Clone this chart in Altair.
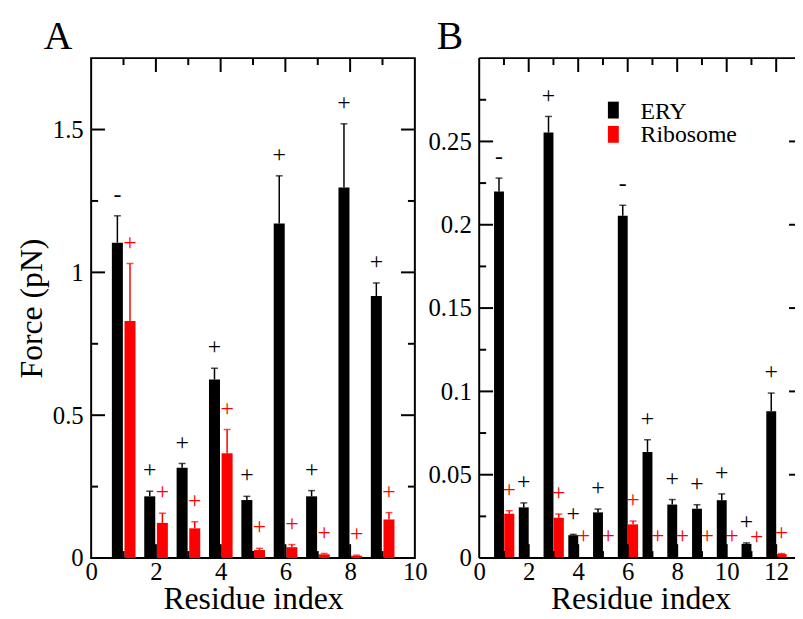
import altair as alt
import pandas as pd

FONT = "Liberation Serif, Times New Roman, DejaVu Serif, serif"

series_names = ["ERY", "Ribosome"]
series_colors = ["#000000", "#ff0000"]
panel_labels = ["A", "B"]

# ---------------- Panel A ----------------
residue_a = [1, 2, 3, 4, 5, 6, 7, 8, 9]
ery_a = [1.104, 0.216, 0.316, 0.625, 0.203, 1.171, 0.216, 1.297, 0.917]
ery_err_a = [0.094, 0.018, 0.015, 0.039, 0.013, 0.167, 0.020, 0.223, 0.046]
ery_sign_a = ["-", "+", "+", "+", "+", "+", "+", "+", "+"]
ribo_a = [0.830, 0.123, 0.104, 0.367, 0.028, 0.038, 0.013, 0.008, 0.135]
ribo_err_a = [0.201, 0.034, 0.023, 0.083, 0.006, 0.009, 0.003, 0.002, 0.024]
ribo_sign_a = ["+", "+", "+", "+", "+", "+", "+", "+", "+"]

# ---------------- Panel B ----------------
residue_b = [1, 2, 3, 4, 5, 6, 7, 8, 9, 10, 11, 12]
ery_b = [0.220, 0.0304, 0.2554, 0.0137, 0.0274, 0.2054, 0.0637, 0.0321, 0.0296, 0.0347, 0.0085, 0.0881]
ery_err_b = [0.008, 0.0027, 0.0096, 0.0005, 0.0020, 0.0063, 0.0073, 0.0030, 0.0024, 0.0038, 0.0006, 0.0109]
ery_sign_b = ["-", "+", "+", "+", "+", "-", "+", "+", "+", "+", "+", "+"]
ribo_b = [0.0266, 0.0006, 0.0242, 0.0005, 0.0005, 0.0202, 0.0005, 0.0005, 0.0006, 0.0005, 0.0, 0.0024]
ribo_err_b = [0.0018, 0.0, 0.0022, 0.0, 0.0, 0.0020, 0.0, 0.0, 0.0, 0.0, 0.0, 0.0003]
ribo_sign_b = ["+", "", "+", "+", "+", "+", "+", "+", "+", "+", "+", "+"]

# axis tick values
xlab_a = [0, 2, 4, 6, 8, 10]
ylab_a = [0, 0.5, 1, 1.5]
xmaj_a, xmin_a = [2, 4, 6, 8], [1, 3, 5, 7, 9]
ymaj_a, ymin_a = [0.5, 1.0, 1.5], [0.25, 0.75, 1.25]

xlab_b = [0, 2, 4, 6, 8, 10, 12]
ylab_b = [0, 0.05, 0.1, 0.15, 0.2, 0.25]
xmaj_b, xmin_b = [2, 4, 6, 8, 10, 12], [1, 3, 5, 7, 9, 11]
ymaj_b, ymin_b = [0.05, 0.1, 0.15, 0.2, 0.25], [0.025, 0.075, 0.125, 0.175, 0.225, 0.275]


def long_df(res, ery, ery_err, ery_sign, ribo, ribo_err, ribo_sign):
    rows = []
    for i, r in enumerate(res):
        rows.append(dict(residue=r, series=series_names[0], value=ery[i], err=ery_err[i], sign=ery_sign[i]))
        rows.append(dict(residue=r, series=series_names[1], value=ribo[i], err=ribo_err[i], sign=ribo_sign[i]))
    return pd.DataFrame(rows)


color_enc = alt.Color("series:N", scale=alt.Scale(domain=series_names, range=series_colors), legend=None)


def panel(df, label, label_dx, W, H, xdom, ydom, xlabels, ylabels, xmaj, xmin, ymaj, ymin,
          ery_off, ribo_off, ytitle, xtitle_x, frame_view):
    xaxis = alt.Axis(values=xlabels, format="~r", ticks=False, tickSize=0, domain=False, grid=False,
                     labelFlush=False, labelPadding=2, title="Residue index", titlePadding=1,
                     minExtent=25, maxExtent=25, titleX=xtitle_x)
    yargs = dict(values=ylabels, format="~r", ticks=False, tickSize=0, domain=False, grid=False,
                 labelFlush=False, labelPadding=8)
    if ytitle:
        yaxis = alt.Axis(title=ytitle, titlePadding=3, minExtent=40, maxExtent=40, **yargs)
    else:
        yaxis = alt.Axis(title=None, **yargs)
    xs = alt.Scale(domain=xdom, nice=False, zero=False)
    ys = alt.Scale(domain=ydom, nice=False)

    def X(f):
        return alt.X(f, type="quantitative", scale=xs, axis=xaxis)

    def Y(f):
        return alt.Y(f, type="quantitative", scale=ys, axis=yaxis)

    base = alt.Chart(df).transform_calculate(
        xl=f"datum.series == '{series_names[0]}' ? datum.residue + ({ery_off[0]}) : datum.residue + ({ribo_off[0]})",
        xr=f"datum.series == '{series_names[0]}' ? datum.residue + ({ery_off[1]}) : datum.residue + ({ribo_off[1]})",
        top="datum.value + datum.err",
    ).transform_calculate(xc="(datum.xl + datum.xr) / 2")

    bars = base.mark_rect().encode(x=X("xl"), x2="xr", y=Y("value"), y2=alt.datum(0), color=color_enc)
    errs = base.transform_filter("datum.err > 0").mark_rule(strokeWidth=1.5).encode(
        x=X("xc"), y=Y("value"), y2="top", color=color_enc)
    caps = base.transform_filter("datum.err > 0").mark_tick(orient="horizontal", size=7, thickness=1.5).encode(
        x=X("xc"), y=Y("top"), color=color_enc)
    signs = base.mark_text(font=FONT, fontSize=24, baseline="middle", align="center", dy=-21).encode(
        x=X("xc"), y=Y("top"), text="sign:N", color=color_enc)

    layers = [bars, errs, caps, signs]

    def tdf(v):
        return pd.DataFrame({"t": v})

    for vals, L in ((xmaj, 14), (xmin, 7)):
        layers.append(alt.Chart(tdf(vals)).mark_rule(color="black", strokeWidth=2).encode(
            x=X("t"), y=alt.value(0), y2=alt.value(L)))
        layers.append(alt.Chart(tdf(vals)).mark_rule(color="black", strokeWidth=2).encode(
            x=X("t"), y=alt.value(H), y2=alt.value(H - L)))
    for vals, L in ((ymaj, 14), (ymin, 7)):
        layers.append(alt.Chart(tdf(vals)).mark_rule(color="black", strokeWidth=2).encode(
            y=Y("t"), x=alt.value(0), x2=alt.value(L)))
        if frame_view:
            layers.append(alt.Chart(tdf(vals)).mark_rule(color="black", strokeWidth=2).encode(
                y=Y("t"), x=alt.value(W), x2=alt.value(W - L)))
        elif L == 14:
            layers.append(alt.Chart(tdf(vals)).mark_rule(color="black", strokeWidth=2).encode(
                y=Y("t"), x=alt.value(W - 6), x2=alt.value(W)))

    one = pd.DataFrame({"label": [label]})
    if not frame_view:
        layers.append(alt.Chart(one).mark_rule(color="black", strokeWidth=2).encode(
            x=alt.value(0), y=alt.value(0), y2=alt.value(H)))
        layers.append(alt.Chart(one).mark_rule(color="black", strokeWidth=2).encode(
            x=alt.value(0), x2=alt.value(W), y=alt.value(0)))
        layers.append(alt.Chart(one).mark_rule(color="black", strokeWidth=2).encode(
            x=alt.value(0), x2=alt.value(W), y=alt.value(H)))
        # legend
        for i, name in enumerate(series_names):
            ldf = pd.DataFrame({"series": [name]})
            layers.append(alt.Chart(ldf).mark_rect(color=series_colors[i]).encode(
                x=alt.value(130), x2=alt.value(141), y=alt.value(44 + 24.5 * i), y2=alt.value(61 + 24.5 * i)))
            layers.append(alt.Chart(ldf).mark_text(font=FONT, fontSize=24, align="left", baseline="alphabetic",
                                                   color="black").encode(
                x=alt.value(163), y=alt.value(61 + 23.5 * i), text="series:N"))

    layers.append(alt.Chart(one).mark_text(font=FONT, fontSize=40, align="left", baseline="alphabetic",
                                           color="black").encode(
        x=alt.value(label_dx), y=alt.value(-9), text="label:N"))

    ch = alt.layer(*layers).properties(width=W, height=H)
    if not frame_view:
        ch = ch.properties(view=alt.ViewBackground(stroke="transparent"))
    return ch


df_a = long_df(residue_a, ery_a, ery_err_a, ery_sign_a, ribo_a, ribo_err_a, ribo_sign_a)
df_b = long_df(residue_b, ery_b, ery_err_b, ery_sign_b, ribo_b, ribo_err_b, ribo_sign_b)

pa = panel(df_a, panel_labels[0], -48, 327, 505, [0, 10], [0, 1.75], xlab_a, ylab_a,
           xmaj_a, xmin_a, ymaj_a, ymin_a, (-0.36, -0.02), (0.03, 0.37), "Force (pN)", 163.5, True)
pb = panel(df_b, panel_labels[1], -43, 319, 505, [0, 12.76], [0, 0.3], xlab_b, ylab_b,
           xmaj_b, xmin_b, ymaj_b, ymin_b, (-0.4, 0.0), (0.01, 0.42), None, 163, False)

chart = alt.hconcat(pa, pb, spacing=65, bounds="flush").properties(
    autosize=alt.AutoSizeParams(type="none"),
    padding={"left": 84, "top": 45, "right": 711, "bottom": 557},
    background="white",
).configure_view(stroke="black", strokeWidth=2).configure_axis(
    labelFont=FONT, labelFontSize=25, labelColor="black",
    titleFont=FONT, titleFontSize=32, titleFontWeight="normal", titleColor="black",
)

chart.save("out.html", embed_options={"renderer": "svg", "actions": False})
